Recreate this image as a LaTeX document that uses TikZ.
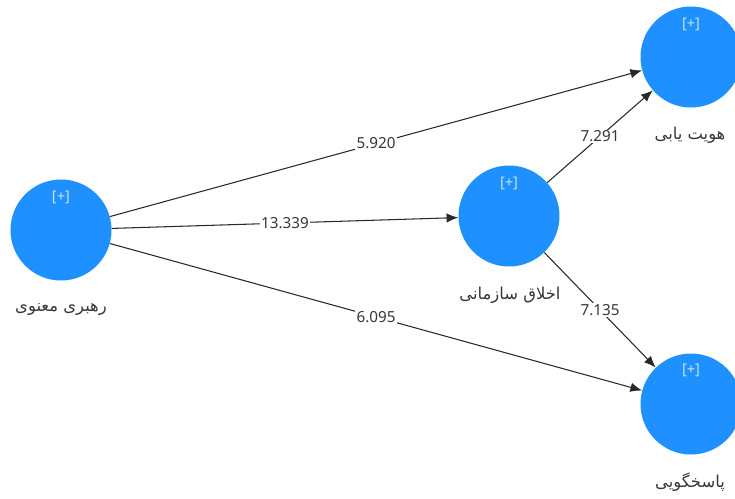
\documentclass[tikz,border=0pt]{standalone}
\usepackage{fontspec}
\setmainfont{Noto Sans}
\newfontfamily\farsi[Script=Arabic]{DejaVu Sans}
\TeXXeTstate=1
\usetikzlibrary{arrows.meta}

\definecolor{nodeblue}{RGB}{30,144,255}
\definecolor{plusblue}{RGB}{200,228,255}
\definecolor{edgegray}{RGB}{40,40,40}
\definecolor{textgray}{RGB}{55,55,55}

\tikzset{
	construct/.style={circle, fill=nodeblue, minimum size=3.03cm, inner sep=0pt},
	plustext/.style={text=plusblue, font=\fontsize{12.5}{14}\selectfont},
	nametext/.style={text=textgray, font=\farsi\fontsize{14}{16}\selectfont},
	link/.style={draw=edgegray, line width=0.9pt, -{Latex[length=10pt, width=8pt]}},
	weight/.style={fill=white, text=textgray, inner sep=1pt, font=\fontsize{13}{15}\selectfont}
}

\begin{document}
\begin{tikzpicture}[x=0.03cm, y=-0.03cm]
			\useasboundingbox (0,0) rectangle (735,498);
			
			\node[construct] (rahbari) at (61,230) {};
			\node[construct] (akhlagh) at (509,216) {};
			\node[construct] (hoviyat) at (691,57) {};
			\node[construct] (pasokh) at (691,404) {};
			
			\node[plustext] (rahbari-plus) at (61,197) {[+]};
			\node[plustext] (akhlagh-plus) at (509,183) {[+]};
			\node[plustext] (hoviyat-plus) at (691,24) {[+]};
			\node[plustext] (pasokh-plus) at (691,370) {[+]};
			
			\node[nametext] (rahbari-name) at (61,309) {\beginR رهبری معنوی\endR};
			\node[nametext] (akhlagh-name) at (510,295) {\beginR اخلاق سازمانی\endR};
			\node[nametext] (hoviyat-name) at (690,135) {\beginR هویت یابی\endR};
			\node[nametext] (pasokh-name) at (690,482) {\beginR پاسخگویی\endR};
			
			\draw[link] (rahbari) -- node[weight] {5.920} (hoviyat);
			\draw[link] (rahbari) -- node[weight] {13.339} (akhlagh);
			\draw[link] (rahbari) -- node[weight] {6.095} (pasokh);
			\draw[link] (akhlagh) -- node[weight] {7.291} (hoviyat);
			\draw[link] (akhlagh) -- node[weight] {7.135} (pasokh);
			
		\end{tikzpicture}
\end{document}
